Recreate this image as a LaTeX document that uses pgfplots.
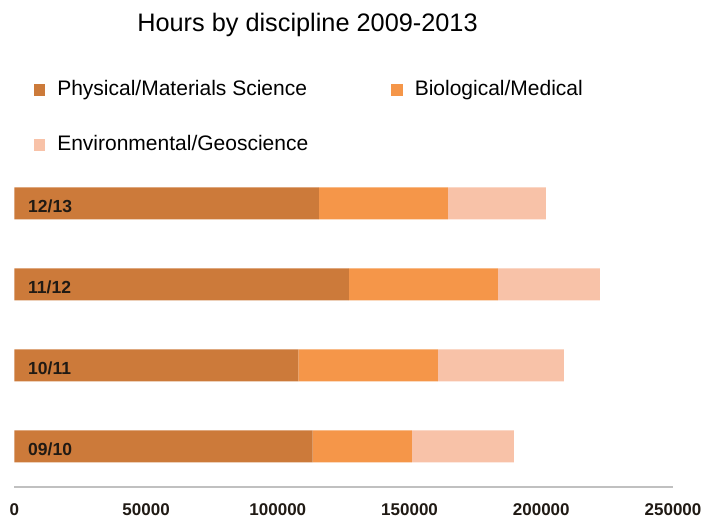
\documentclass[border=0pt]{standalone}
\usepackage{pgfplots}
\pgfplotsset{compat=1.18}
\usepackage{fontspec}
\setmainfont{Liberation Sans}

\definecolor{physcol}{RGB}{204,122,58}
\definecolor{biocol}{RGB}{245,150,73}
\definecolor{envcol}{RGB}{248,194,168}
\definecolor{axisgray}{RGB}{192,192,192}
\definecolor{labelcol}{RGB}{32,26,20}

\tikzset{yearlabel/.style={anchor=west, inner sep=0pt, xshift=13.6pt, yshift=-2.5pt,
    font=\fontsize{17.5}{20}\selectfont\bfseries, text=labelcol}}

\begin{document}
\begin{tikzpicture}[x=1pt,y=1pt]
\path[use as bounding box] (0,0) rectangle (703,518);

% title
\node[anchor=base, font=\fontsize{25.3}{30}\selectfont, inner sep=0pt] at (307.5,486) {Hours by discipline 2009-2013};

\begin{axis}[
  at={(14.4pt,31pt)}, anchor=south west,
  scale only axis, width=658.6pt, height=324pt,
  xbar stacked, bar width=32pt,
  xmin=0, xmax=250000, ymin=-0.5, ymax=3.5,
  axis x line=bottom, axis y line=none,
  x axis line style={-, line width=2.5pt, draw=axisgray},
  xtick={0,50000,100000,150000,200000,250000},
  xticklabels={0,50000,100000,150000,200000,250000},
  scaled x ticks=false,
  xticklabel style={anchor=center, inner sep=0pt, yshift=-22.5pt, font=\fontsize{17}{20}\selectfont\bfseries, text=labelcol},
  major tick length=0pt,
  ytick=\empty,
  legend columns=2,
  legend cell align=left,
  legend image code/.code={\fill[#1] (0pt,-5.5pt) rectangle (11.5pt,6pt);},
  legend style={
    at={(16.2pt,408.5pt)}, anchor=north west,
    draw=none, fill=none,
    font=\fontsize{21}{25}\selectfont,
    nodes={inner sep=0pt, text height=15pt, text depth=4.5pt},
    row sep=35.5pt,
    /tikz/every odd column/.append style={column sep=12pt},
    /tikz/every even column/.append style={column sep=83pt},
  },
  % academic year labels, set on top of the bars
  after end axis/.code={
    \node[yearlabel] at (axis cs:0,0) {09/10};
    \node[yearlabel] at (axis cs:0,1) {10/11};
    \node[yearlabel] at (axis cs:0,2) {11/12};
    \node[yearlabel] at (axis cs:0,3) {12/13};
  },
]
% hours per discipline for 09/10, 10/11, 11/12, 12/13
\addplot[fill=physcol, draw=none] coordinates {(113200,0) (107800,1) (127000,2) (115600,3)};
\addplot[fill=biocol, draw=none] coordinates {(37700,0) (52900,1) (56500,2) (48900,3)};
\addplot[fill=envcol, draw=none] coordinates {(38700,0) (47900,1) (38700,2) (37200,3)};
\legend{Physical/Materials Science, Biological/Medical, Environmental/Geoscience}
\end{axis}
\end{tikzpicture}
\end{document}
